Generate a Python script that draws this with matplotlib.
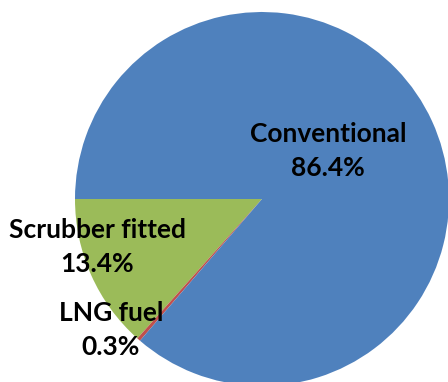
import matplotlib
matplotlib.use("Agg")
import matplotlib.pyplot as plt

categories = ["Scrubber fitted", "LNG fuel", "Conventional"]
shares = [13.4, 0.3, 86.4]
colors = ["#9BBB59", "#C0504D", "#4F81BD"]

W, H = 448, 382
fig = plt.figure(figsize=(W / 100, H / 100), dpi=100)
ax = fig.add_axes([0, 0, 1, 1])

ax.pie(shares, colors=colors, startangle=180, counterclock=True,
       center=(262, H - 199), radius=187, frame=True,
       wedgeprops=dict(linewidth=0))
ax.set_xlim(0, W)
ax.set_ylim(0, H)
ax.set_aspect("equal")
ax.axis("off")

# label anchors (pixel coords from top-left)
label_pos = [(97, 247), (111, 330), (328, 151)]
for name, val, (x, y) in zip(categories, shares, label_pos):
    ax.text(x, H - y, f"{name}\n{val}%", ha="center", va="center",
            fontsize=19, fontweight="bold", family="Lato",
            linespacing=1.5, color="black")

fig.savefig("out.png", dpi=100)
